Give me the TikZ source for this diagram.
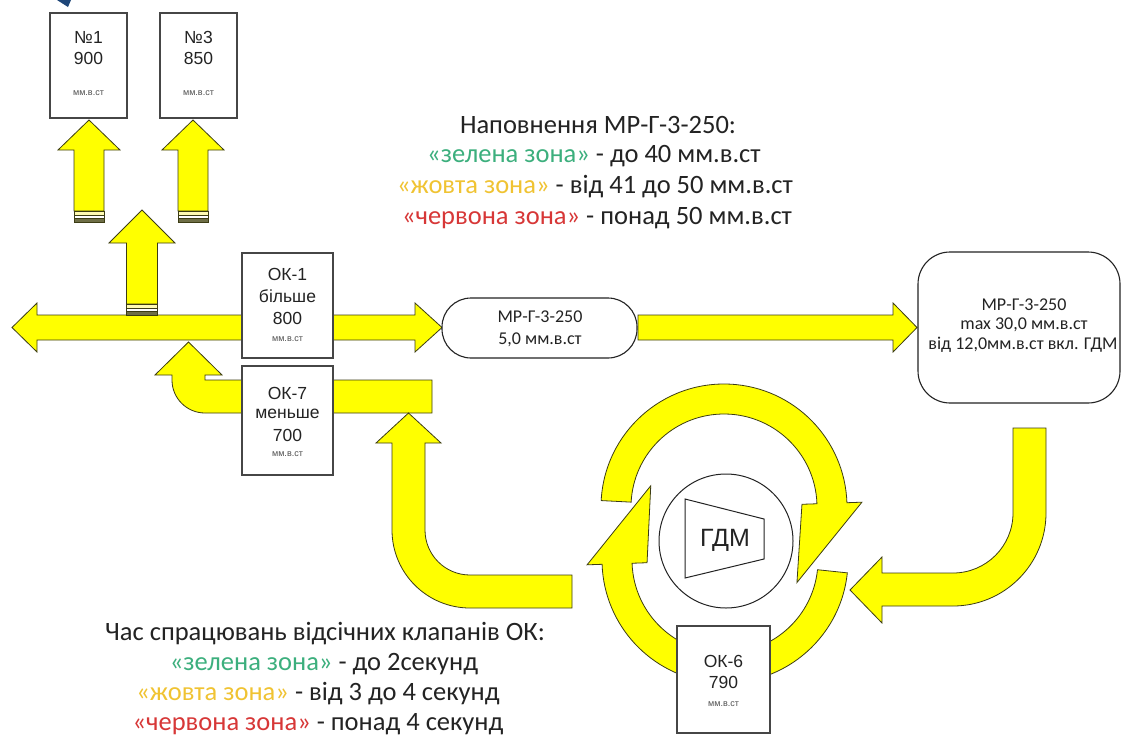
\documentclass[tikz,border=0pt]{standalone}
\usepackage{fontspec}
\setmainfont{Carlito}
\newfontfamily\arialf{Liberation Sans}
\usetikzlibrary{calc}
\definecolor{ay}{RGB}{255,255,0}
\definecolor{ao}{RGB}{60,60,20}
\definecolor{bx}{RGB}{70,70,70}
\definecolor{tx}{RGB}{35,35,35}
\definecolor{gz}{RGB}{60,175,125}
\definecolor{yz}{RGB}{240,195,50}
\definecolor{rz}{RGB}{215,55,55}
\definecolor{cpl}{RGB}{110,110,70}
\definecolor{markc}{RGB}{30,70,120}
\newcommand\mycoupling[3]{%
  \draw[fill=yellow!30!white,draw=ao,line width=0.6pt] (#1,#3) rectangle (#2,#3+4);
  \draw[fill=white,draw=ao,line width=0.6pt] (#1,#3+4) rectangle (#2,#3+7);
  \draw[fill=cpl,draw=ao,line width=0.6pt] (#1,#3+7) rectangle (#2,#3+11);}
\newcommand\myup[6]{%
  \draw[arr] (#1-#5,#4) -- (#1-#5,#3) -- (#1-#6,#3) -- (#1,#2) -- (#1+#6,#3) -- (#1+#5,#3) -- (#1+#5,#4) -- cycle;}
\begin{document}
\begin{tikzpicture}[x=1pt,y=-1pt,
  arr/.style={fill=ay,draw=ao,line width=0.8pt,line join=miter},
  box/.style={draw=bx,fill=white,line width=1.1pt,inner sep=0pt},
  bt/.style={font=\arialf\fontsize{17.5}{18}\selectfont,text=tx,inner sep=0pt},
  bs/.style={font=\arialf\fontsize{9}{9}\selectfont,text=tx!80,inner sep=0pt},
  ct/.style={font=\fontsize{18}{20}\selectfont,text=tx,inner sep=0pt},
  lt/.style={font=\fontsize{26.5}{30}\selectfont,text=tx,inner sep=0pt}]
\useasboundingbox[fill=white] (0,0) rectangle (1121,742);
% corner mark
\fill[markc] (57,0) -- (71,0) -- (68,7) -- cycle;
% main pipe
\draw[arr] (12,327.5) -- (37,303) -- (37,315) -- (415,315) -- (415,303) -- (442,327.5) -- (415,352) -- (415,340) -- (37,340) -- (37,352) -- cycle;
% up arrows
\myup{142}{210}{243}{304}{15.5}{33}
\mycoupling{126.5}{157.5}{304}
\myup{89}{120}{150}{211}{15}{31}
\mycoupling{74}{104}{211}
\myup{193}{120}{150}{211}{15}{31}
\mycoupling{178}{208}{211}
% boxes N1 N3
\node[box,minimum width=77pt,minimum height=105pt] (b1) at (88.5,65.5) {};
\node[box,minimum width=77pt,minimum height=105pt] (b3) at (198.5,65.5) {};
\node[bt] (b1a) at (88.5,37) {№1};
\node[bt] (b1b) at (88.5,58) {900};
\node[bs] (b1c) at (88.5,93) {мм.в.ст};
\node[bt] (b3a) at (198.5,37) {№3};
\node[bt] (b3b) at (198.5,58) {850};
\node[bs] (b3c) at (198.5,93) {мм.в.ст};
% OK-7 left curved arrow with bar
\draw[arr] (432,380) -- (205,380) -- (205,375) -- (222,375) -- (188.5,342) -- (155,375) -- (172,375) -- (172,380)
  arc[start angle=180,end angle=270,radius=33pt] -- (432,413) -- cycle;
% bottom-left up arrow
\draw[arr] (572,575) -- (470,575) arc[start angle=270,end angle=180,radius=45pt] -- (425,443) -- (441,443) -- (408.5,413)
  -- (376,443) -- (392,443) -- (392,530) arc[start angle=180,end angle=270,radius=78pt] -- (572,608) -- cycle;
% OK-1 and OK-7 boxes
\node[box,minimum width=91pt,minimum height=105pt] (ok1) at (287.5,305.5) {};
\node[bt] (ok1a) at (287.5,274) {ОК-1};
\node[bt] (ok1b) at (287.5,296) {більше};
\node[bt] (ok1c) at (287.5,318) {800};
\node[bs] (ok1d) at (287.5,339) {мм.в.ст};
\node[box,minimum width=91pt,minimum height=109pt] (ok7) at (287.5,420.5) {};
\node[bt] (ok7a) at (287.5,393) {ОК-7};
\node[bt] (ok7b) at (287.5,414) {меньше};
\node[bt] (ok7c) at (287.5,435) {700};
\node[bs] (ok7d) at (287.5,454) {мм.в.ст};
% right pipe
\draw[arr] (638,315) -- (893,315) -- (893,303) -- (917,327.5) -- (893,352) -- (893,340) -- (638,340) -- cycle;
% stadium
\node[draw=tx,fill=white,line width=1.1pt,rounded corners=29pt,minimum width=195pt,minimum height=60pt] (mr1) at (539.5,328) {};
\node[ct] (mr1a) at (540,317) {МР-Г-3-250};
\node[ct] (mr1b) at (540,340) {5,0 мм.в.ст};
% right box
\node[draw=tx,fill=white,line width=1.1pt,rounded corners=32pt,minimum width=202pt,minimum height=151pt] (mr2) at (1019,327.5) {};
\node[ct] (mr2a) at (1024,305) {МР-Г-3-250};
\node[ct] (mr2b) at (1024,325) {max 30,0 мм.в.ст};
\node[ct] (mr2c) at (1023,345) {від 12,0мм.в.ст вкл. ГДМ};
% right down-curve arrow
\draw[arr] (1013,428) -- (1046,428) -- (1046,513) arc[start angle=0,end angle=-90,radius=93pt] -- (882,606) -- (882,623)
  -- (850,590) -- (882,557) -- (882,573) -- (953,573) arc[start angle=-90,end angle=0,radius=60pt] -- cycle;
% circular arrows
\coordinate (L) at (725,560);
\coordinate (U) at (724,507);
\draw[arr] ($(L)+(-6:123pt)$) arc[start angle=-6,end angle=-178,radius=123pt] -- ($(L)+(-178:138pt)$) -- ($(L)+(-225:105pt)$)
  -- ($(L)+(-178:78pt)$) -- ($(L)+(-178:93pt)$) arc[start angle=-178,end angle=-6,radius=93pt] -- cycle;
\draw[arr] ($(U)+(177:123pt)$) arc[start angle=177,end angle=2,radius=123pt] -- ($(U)+(2:138pt)$) -- ($(U)+(-46:105pt)$)
  -- ($(U)+(2:78pt)$) -- ($(U)+(2:93pt)$) arc[start angle=2,end angle=177,radius=93pt] -- cycle;
% GDM
\node[draw=tx,fill=white,circle,line width=1pt,minimum size=134pt] (gdm) at (726,541) {};
\draw[draw=tx,line width=1pt] (685,499) -- (764,519) -- (764,559) -- (685,578) -- cycle;
\node[font=\arialf\fontsize{25}{25}\selectfont,text=tx,inner sep=0pt] (gdmt) at (725,540) {ГДМ};
% OK-6
\node[box,minimum width=93pt,minimum height=107pt] (ok6) at (723.5,679.5) {};
\node[bt] (ok6a) at (723.5,661) {ОК-6};
\node[bt] (ok6b) at (723.5,682) {790};
\node[bs] (ok6c) at (723.5,704) {мм.в.ст};
% texts
\node[lt] (t1) at (598,125) {Наповнення МР-Г-3-250:};
\node[lt] (t2) at (594,156) {{\color{gz}«зелена зона»} - до 40 мм.в.ст};
\node[lt] (t3) at (595,187) {{\color{yz}«жовта зона»} - від 41 до 50 мм.в.ст};
\node[lt] (t4) at (597,218) {{\color{rz}«червона зона»} - понад 50 мм.в.ст};
\node[lt] (s1) at (325,634) {Час спрацювань відсічних клапанів ОК:};
\node[lt] (s2) at (324,664) {{\color{gz}«зелена зона»} - до 2секунд};
\node[lt] (s3) at (318,694) {{\color{yz}«жовта зона»} - від 3 до 4 секунд};
\node[lt] (s4) at (318,724) {{\color{rz}«червона зона»} - понад 4 секунд};
\end{tikzpicture}
\end{document}
